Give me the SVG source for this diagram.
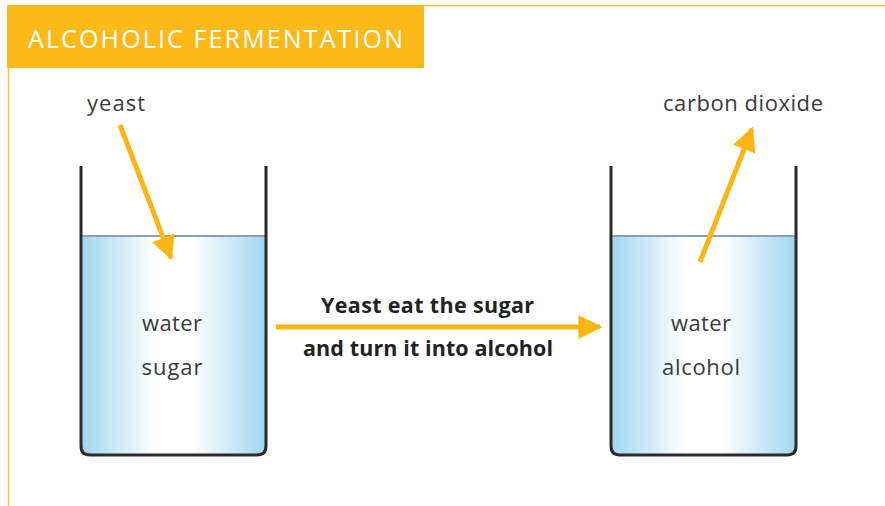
<svg xmlns="http://www.w3.org/2000/svg" width="885" height="506" viewBox="0 0 885 506">
<defs>
<linearGradient id="water" x1="0" y1="0" x2="1" y2="0">
<stop offset="0" stop-color="#9fd6ef"/>
<stop offset="0.4" stop-color="#ffffff"/>
<stop offset="0.6" stop-color="#ffffff"/>
<stop offset="1" stop-color="#9fd6ef"/>
</linearGradient>
<marker id="ah" viewBox="0 0 10 10" refX="9" refY="5" markerWidth="4.8" markerHeight="5.2" markerUnits="strokeWidth" orient="auto">
<path d="M0,0 L10,5 L0,10 z" fill="#fbb614"/>
</marker>
<style>
.lbl{font-family:"Open Sans","Liberation Sans",sans-serif;font-size:22px;fill:#3a3a3a;}
.bold{font-family:"Open Sans","Liberation Sans",sans-serif;font-size:21.5px;font-weight:bold;fill:#222;}
.wall{fill:none;stroke:#2b2b2b;stroke-width:3;}
.arr{stroke:#fbb614;stroke-width:5;fill:none;marker-end:url(#ah);}
</style>
</defs>
<rect x="0" y="0" width="885" height="506" fill="#fff"/>
<g id="header">
<line x1="424" y1="5.5" x2="885" y2="5.5" stroke="#fbc33a" stroke-width="1.5"/>
<line x1="8.5" y1="68" x2="8.5" y2="506" stroke="#fbc33a" stroke-width="1.5"/>
<rect x="7" y="5" width="417" height="63" fill="#fbb91a"/>
<text x="28" y="48" font-family="'Open Sans','Liberation Sans',sans-serif" font-size="25" fill="#fff" textLength="375" lengthAdjust="spacing">ALCOHOLIC FERMENTATION</text>
</g>
<g id="beaker1">
<path d="M81,236 L266,236 L266,446 Q266,455 257,455 L90,455 Q81,455 81,446 Z" fill="url(#water)"/>
<line x1="81" y1="236" x2="266" y2="236" stroke="#8aa0b8" stroke-width="2"/>
<path class="wall" d="M81,166 L81,446 Q81,455 90,455 L257,455 Q266,455 266,446 L266,166"/>
<text class="lbl" x="172" y="331" text-anchor="middle" textLength="60" lengthAdjust="spacing">water</text>
<text class="lbl" x="172" y="375" text-anchor="middle" textLength="61" lengthAdjust="spacing">sugar</text>
</g>
<g id="beaker2">
<path d="M611,236 L796,236 L796,446 Q796,455 787,455 L620,455 Q611,455 611,446 Z" fill="url(#water)"/>
<line x1="611" y1="236" x2="796" y2="236" stroke="#8aa0b8" stroke-width="2"/>
<path class="wall" d="M611,166 L611,446 Q611,455 620,455 L787,455 Q796,455 796,446 L796,166"/>
<text class="lbl" x="701" y="331" text-anchor="middle" textLength="60" lengthAdjust="spacing">water</text>
<text class="lbl" x="701" y="375" text-anchor="middle" textLength="78" lengthAdjust="spacing">alcohol</text>
</g>
<g id="yeast">
<text class="lbl" x="87" y="111" textLength="58" lengthAdjust="spacing">yeast</text>
</g>
<g id="co2">
<text class="lbl" x="663" y="111" textLength="160" lengthAdjust="spacing">carbon dioxide</text>
</g>
<g id="step">
<text class="bold" x="321" y="313" textLength="213" lengthAdjust="spacing">Yeast eat the sugar</text>
<text class="bold" x="303" y="356" textLength="250" lengthAdjust="spacing">and turn it into alcohol</text>
</g>
<g id="connectors">
<line class="arr" x1="120" y1="125" x2="171" y2="258"/>
<line class="arr" x1="700" y1="262" x2="752" y2="129"/>
<line class="arr" x1="276" y1="327" x2="600" y2="327"/>
</g>
</svg>
